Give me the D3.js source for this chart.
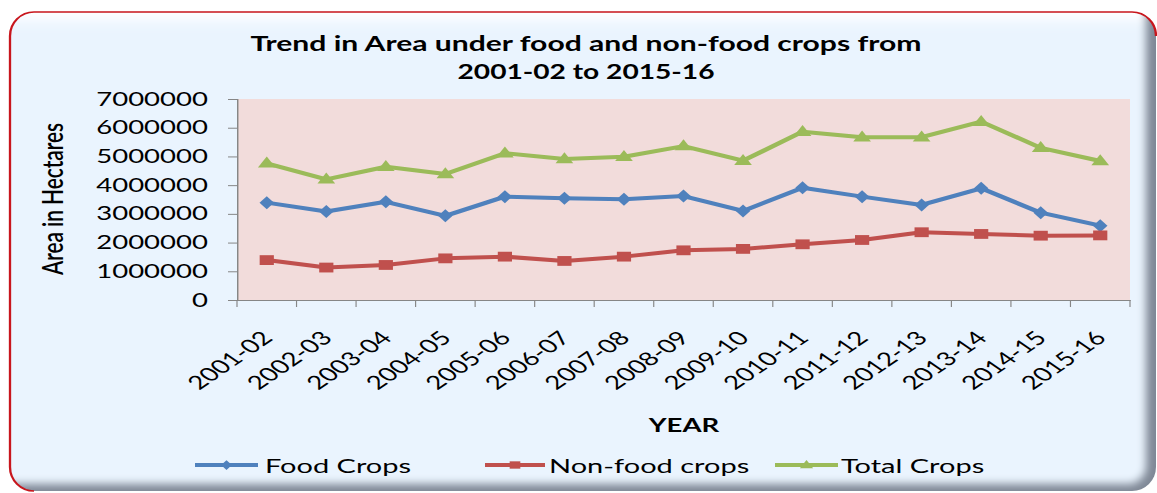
<!DOCTYPE html>
<html>
<head>
<meta charset="utf-8">
<script src="https://cdn.jsdelivr.net/npm/d3@7"></script>
<style>
  html, body { margin: 0; padding: 0; background: #ffffff; }
  svg { display: block; }
  text { font-family: Lato, "Open Sans", sans-serif; fill: #000; }
</style>
</head>
<body>
<svg id="chart"></svg>
<script>
const years = ['2001-02', '2002-03', '2003-04', '2004-05', '2005-06', '2006-07', '2007-08', '2008-09',
  '2009-10', '2010-11', '2011-12', '2012-13', '2013-14', '2014-15', '2015-16'];
const foodCrops = [3390000, 3080000, 3420000, 2930000, 3600000, 3540000, 3510000, 3620000,
  3100000, 3910000, 3600000, 3310000, 3890000, 3040000, 2590000];
const nonFoodCrops = [1390000, 1130000, 1220000, 1450000, 1510000, 1360000, 1510000, 1730000,
  1780000, 1940000, 2090000, 2360000, 2300000, 2240000, 2250000];
const totalCrops = [4760000, 4200000, 4640000, 4390000, 5110000, 4910000, 4990000, 5360000,
  4850000, 5860000, 5670000, 5670000, 6210000, 5300000, 4840000];
const yTicks = [0, 1000000, 2000000, 3000000, 4000000, 5000000, 6000000, 7000000];
const seriesNames = ['Food Crops', 'Non-food crops', 'Total Crops'];

// the picture is stretched sideways, so draw in a narrower space and let the viewBox widen it
const STRETCH = 1.45;
const W = 1157 / STRETCH;
const H = 493;
const px = (x) => x / STRETCH;

const svg = d3.select('#chart')
  .attr('width', 1157)
  .attr('height', H)
  .attr('viewBox', `0 0 ${W} ${H}`)
  .attr('preserveAspectRatio', 'none');

const defs = svg.append('defs');

// frame
const frame = { x: px(10), y: 12, w: px(1156) - px(10), h: 479, rx: px(24), ry: 24 };

defs.append('clipPath').attr('id', 'frameClip')
  .append('rect')
  .attr('x', frame.x).attr('y', frame.y)
  .attr('width', frame.w).attr('height', frame.h)
  .attr('rx', frame.rx).attr('ry', frame.ry);

defs.append('filter').attr('id', 'soft')
  .attr('x', '-5%').attr('y', '-5%').attr('width', '110%').attr('height', '110%')
  .append('feGaussianBlur').attr('stdDeviation', '3 4');

const topFade = defs.append('linearGradient').attr('id', 'topFade')
  .attr('gradientUnits', 'userSpaceOnUse')
  .attr('x1', 0).attr('y1', 13).attr('x2', 0).attr('y2', 27);
topFade.append('stop').attr('offset', 0).attr('stop-color', '#ffffff');
topFade.append('stop').attr('offset', 1).attr('stop-color', '#eaf4fe');

const frameG = svg.append('g').attr('clip-path', 'url(#frameClip)');
frameG.append('rect')
  .attr('x', frame.x).attr('y', frame.y)
  .attr('width', frame.w).attr('height', frame.h)
  .attr('fill', '#7f8896');
frameG.append('rect')
  .attr('x', frame.x - 30).attr('y', frame.y - 30)
  .attr('width', px(1146) - frame.x + 30).attr('height', 484 - frame.y + 30)
  .attr('rx', px(18)).attr('ry', 18)
  .attr('fill', 'url(#topFade)')
  .attr('filter', 'url(#soft)');

// red edge on the left and top only, the shadow hides the rest
const fx0 = frame.x, fy0 = frame.y, fx1 = frame.x + frame.w, fy1 = frame.y + frame.h;
svg.append('path')
  .attr('d', `M${fx0 + frame.rx},${fy1} A${frame.rx},${frame.ry} 0 0 1 ${fx0},${fy1 - frame.ry}`
    + ` L${fx0},${fy0 + frame.ry} A${frame.rx},${frame.ry} 0 0 1 ${fx0 + frame.rx},${fy0}`
    + ` L${fx1 - frame.rx},${fy0} A${frame.rx},${frame.ry} 0 0 1 ${fx1},${fy0 + frame.ry}`)
  .attr('fill', 'none')
  .attr('stroke', '#c8161d')
  .attr('stroke-width', 1.6);

// plot area
const plot = { left: px(237), right: px(1130), top: 99, bottom: 300 };

const x = d3.scalePoint().domain(years).range([plot.left, plot.right]).padding(0.5);
const xBand = d3.scaleBand().domain(years).range([plot.left, plot.right]);
const y = d3.scaleLinear().domain([0, 7000000]).range([plot.bottom, plot.top]);

svg.append('rect')
  .attr('x', plot.left).attr('y', plot.top)
  .attr('width', plot.right - plot.left).attr('height', plot.bottom - plot.top)
  .attr('fill', '#f2dcdb');

const yAxis = svg.append('g')
  .attr('transform', `translate(${plot.left},0)`)
  .call(d3.axisLeft(y).tickValues(yTicks).tickFormat(d3.format('d')).tickSize(px(9)).tickPadding(px(20)));
yAxis.select('.domain').attr('stroke', '#868686').attr('stroke-width', 1);
yAxis.selectAll('.tick line').attr('stroke', '#868686');
yAxis.selectAll('.tick text')
  .attr('font-family', 'Lato, sans-serif')
  .attr('font-size', 19)
  .attr('fill', '#1a1a1a');

const xAxis = svg.append('g')
  .attr('transform', `translate(0,${plot.bottom})`)
  .call(d3.axisBottom(x).tickSize(0).tickFormat(''));
xAxis.select('.domain').attr('stroke', '#868686').attr('stroke-width', 1.2);

const bounds = years.map((d) => xBand(d)).concat([xBand.range()[1]]);
xAxis.selectAll('.bound')
  .data(bounds)
  .enter()
  .append('line')
  .attr('class', 'bound')
  .attr('x1', (d) => d).attr('x2', (d) => d)
  .attr('y1', 0).attr('y2', 7)
  .attr('stroke', '#868686')
  .attr('stroke-width', 0.8);

svg.append('g')
  .selectAll('text')
  .data(years)
  .enter()
  .append('text')
  .attr('transform', (d) => `translate(${x(d)},${334}) rotate(-45)`)
  .attr('text-anchor', 'end')
  .attr('dominant-baseline', 'central')
  .attr('font-size', 19)
  .attr('fill', '#1a1a1a')
  .text((d) => d);

// titles
svg.append('text')
  .attr('x', px(586)).attr('y', 51.5)
  .attr('text-anchor', 'middle')
  .attr('font-weight', 700)
  .attr('font-size', 20)
  .attr('textLength', px(671))
  .attr('lengthAdjust', 'spacingAndGlyphs')
  .text('Trend in Area under food and non-food crops from');
svg.append('text')
  .attr('x', px(586)).attr('y', 79)
  .attr('text-anchor', 'middle')
  .attr('font-weight', 700)
  .attr('font-size', 20)
  .attr('textLength', px(257))
  .attr('lengthAdjust', 'spacingAndGlyphs')
  .text('2001-02 to 2015-16');

svg.append('text')
  .attr('transform', `translate(${px(63)},${199}) rotate(-90)`)
  .attr('text-anchor', 'middle')
  .attr('font-size', 20)
  .attr('font-weight', 600)
  .attr('textLength', 152)
  .attr('lengthAdjust', 'spacingAndGlyphs')
  .text('Area in Hectares');

svg.append('text')
  .attr('x', px(684)).attr('y', 432)
  .attr('text-anchor', 'middle')
  .attr('font-weight', 700)
  .attr('font-size', 19)
  .text('YEAR');

// series
const markers = {
  diamond: 'M0,-6.5L5,0L0,6.5L-5,0Z',
  square: 'M-4.9,-4.9H4.9V4.9H-4.9Z',
  triangle: 'M0,-6.8L6.1,4.2L-6.1,4.2Z',
};

const series = [
  { name: seriesNames[0], values: foodCrops, color: '#4f81bd', marker: markers.diamond },
  { name: seriesNames[1], values: nonFoodCrops, color: '#c0504d', marker: markers.square },
  { name: seriesNames[2], values: totalCrops, color: '#9bbb59', marker: markers.triangle },
];

const line = d3.line()
  .x((d, i) => x(years[i]))
  .y((d) => y(d));

series.forEach((s) => {
  const g = svg.append('g');
  g.append('path')
    .attr('d', line(s.values))
    .attr('fill', 'none')
    .attr('stroke', s.color)
    .attr('stroke-width', 4)
    .attr('stroke-linejoin', 'round');
  g.selectAll('path.pt')
    .data(s.values)
    .enter()
    .append('path')
    .attr('class', 'pt')
    .attr('d', s.marker)
    .attr('transform', (d, i) => `translate(${x(years[i])},${y(d)})`)
    .attr('fill', s.color);
});

// legend
const legendItems = [
  { s: series[0], x0: px(195), x1: px(258), tx: px(265) },
  { s: series[1], x0: px(485), x1: px(545), tx: px(549) },
  { s: series[2], x0: px(775), x1: px(838), tx: px(841) },
];
const legendY = 465;
const legend = svg.append('g');
legendItems.forEach((item) => {
  legend.append('line')
    .attr('x1', item.x0).attr('x2', item.x1)
    .attr('y1', legendY).attr('y2', legendY)
    .attr('stroke', item.s.color)
    .attr('stroke-width', 4);
  legend.append('path')
    .attr('d', item.s.marker)
    .attr('transform', `translate(${(item.x0 + item.x1) / 2},${legendY}) scale(0.75)`)
    .attr('fill', item.s.color);
  legend.append('text')
    .attr('x', item.tx).attr('y', legendY)
    .attr('dominant-baseline', 'central')
    .attr('font-size', 20)
    .attr('fill', '#1a1a1a')
    .text(item.s.name);
});
</script>
</body>
</html>
